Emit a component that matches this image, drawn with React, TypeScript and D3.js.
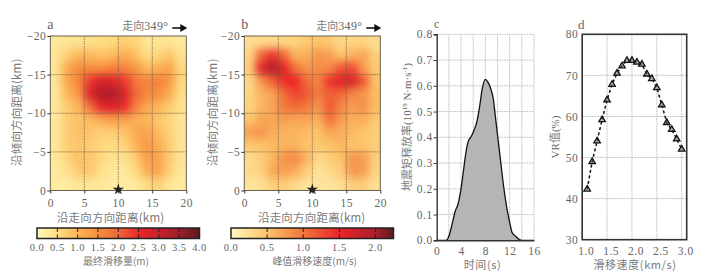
import { useEffect, useRef } from "react";
import * as d3 from "d3";

// heat maps, 12 x 12 cells, top row is -20 km
const slipGrid = [
  [0.3, 0.35, 0.4, 0.45, 0.5, 0.55, 0.7, 0.6, 0.35, 0.35, 0.35, 0.3],
  [0.35, 0.7, 1.0, 0.95, 0.85, 0.95, 1.15, 0.9, 0.5, 0.6, 0.8, 0.4],
  [0.35, 1.15, 1.55, 1.5, 1.5, 1.7, 1.65, 1.4, 0.95, 1.05, 1.25, 0.55],
  [0.35, 1.2, 1.6, 2.4, 2.8, 2.7, 2.4, 1.8, 1.6, 1.7, 1.4, 0.55],
  [0.3, 1.0, 1.4, 2.7, 3.3, 3.3, 2.8, 2.0, 1.6, 1.5, 1.1, 0.45],
  [0.3, 0.75, 1.0, 1.9, 2.6, 2.7, 2.5, 1.7, 1.2, 1.0, 0.75, 0.4],
  [0.3, 0.7, 0.85, 0.95, 1.15, 1.3, 1.25, 1.1, 1.0, 0.8, 0.6, 0.35],
  [0.3, 0.7, 0.85, 0.8, 0.65, 0.7, 0.8, 1.15, 1.25, 0.95, 0.65, 0.35],
  [0.3, 0.7, 0.8, 0.7, 0.55, 0.5, 0.6, 1.0, 1.4, 1.1, 0.7, 0.35],
  [0.3, 0.6, 0.85, 0.8, 0.55, 0.4, 0.4, 0.7, 1.3, 1.25, 0.75, 0.35],
  [0.3, 0.4, 0.75, 0.75, 0.45, 0.3, 0.3, 0.5, 1.1, 1.25, 0.65, 0.3],
  [0.25, 0.25, 0.35, 0.35, 0.3, 0.25, 0.25, 0.3, 0.5, 0.65, 0.35, 0.25],
];
const rateGrid = [
  [0.25, 0.3, 0.3, 0.35, 0.35, 0.45, 0.5, 0.45, 0.3, 0.35, 0.35, 0.25],
  [0.35, 1.1, 1.45, 1.1, 0.6, 0.65, 0.8, 0.75, 0.5, 0.6, 0.7, 0.4],
  [0.4, 1.6, 1.95, 1.55, 1.0, 0.8, 0.85, 0.85, 1.2, 1.3, 0.75, 0.45],
  [0.3, 0.8, 1.15, 1.45, 1.5, 1.05, 0.9, 1.4, 1.6, 1.65, 1.2, 0.5],
  [0.35, 0.6, 0.7, 1.05, 1.3, 1.2, 0.95, 1.15, 1.1, 0.9, 0.8, 0.55],
  [0.35, 0.6, 0.7, 1.0, 1.05, 1.0, 0.8, 1.2, 0.9, 0.75, 0.85, 0.55],
  [0.5, 0.7, 0.7, 0.75, 0.7, 0.7, 0.6, 1.05, 0.75, 0.65, 0.65, 0.45],
  [0.75, 0.8, 0.65, 0.6, 0.6, 0.55, 0.5, 0.7, 0.65, 0.55, 0.5, 0.4],
  [0.45, 0.5, 0.55, 0.6, 0.6, 0.5, 0.45, 0.5, 0.6, 0.5, 0.5, 0.4],
  [0.3, 0.4, 0.6, 0.8, 0.9, 0.6, 0.3, 0.4, 0.5, 0.8, 0.75, 0.4],
  [0.3, 0.35, 0.7, 0.75, 0.65, 0.4, 0.2, 0.3, 0.4, 0.8, 0.75, 0.35],
  [0.2, 0.25, 0.4, 0.4, 0.3, 0.2, 0.2, 0.2, 0.25, 0.4, 0.4, 0.25],
];

const slipStops = [0, 0.5, 1, 1.5, 2, 2.5, 3, 3.5, 4];
const rateStops = [0, 0.5, 1, 1.5, 2, 2.25];
const slipColors = ["#fff8c0", "#fedd84", "#fcb55a", "#f68f3e", "#f0683a", "#ec2428", "#c8202c", "#9c1f2a", "#5c1a1e"];
const rateColors = ["#fff8c0", "#fcc468", "#f1763a", "#ec2428", "#a81f2a", "#5c1a1e"];
const slipTicks = [0, 0.5, 1, 1.5, 2, 2.5, 3, 3.5, 4];
const rateTicks = [0, 0.5, 1, 1.5, 2];

const distTicks = [0, 5, 10, 15, 20];
const depthTicks = [-20, -15, -10, -5, 0];

// moment rate function
const stfTime = [0, 1.5, 1.9, 2.3, 2.7, 3, 3.5, 4, 4.4, 4.8, 5.2, 5.6, 6, 6.6, 7, 7.5, 8, 8.4, 9, 9.3, 9.6, 10, 10.5, 11, 11.5, 12, 12.4, 13, 13.6, 14, 16];
const stfRate = [0, 0, 0.01, 0.04, 0.08, 0.11, 0.14, 0.2, 0.27, 0.34, 0.385, 0.4, 0.42, 0.46, 0.51, 0.59, 0.625, 0.615, 0.58, 0.55, 0.49, 0.41, 0.31, 0.21, 0.13, 0.07, 0.03, 0.015, 0.003, 0, 0];
const stfXGrid = [2, 4, 6, 8, 10, 12, 14];
const stfXTicks = [0, 4, 8, 12, 16];
const stfYTicks = [0, 0.1, 0.2, 0.3, 0.4, 0.5, 0.6, 0.7, 0.8];

// VR vs rupture speed
const speed = [1.1, 1.2, 1.3, 1.4, 1.5, 1.6, 1.7, 1.8, 1.9, 2.0, 2.1, 2.2, 2.3, 2.4, 2.5, 2.6, 2.7, 2.8, 2.9, 3.0];
const vr = [42.3, 49, 54, 59.2, 64, 67.8, 70.5, 72.3, 73.6, 73.6, 73.2, 72.7, 70.3, 69.2, 67, 62.8, 58.5, 56.8, 54.5, 52];
const speedTicks = [1, 1.5, 2, 2.5, 3];
const vrTicks = [30, 40, 50, 60, 70, 80];

const SERIF = "'Liberation Serif','Noto Sans CJK SC',serif";
const CJK = "'Noto Sans CJK SC','Liberation Serif',serif";
const TEXT = "#666";
const CJK_TEXT = "#7a7a7a";
const AXIS = "#6b6250";

function heatPanel(svg: any, id: string, left: number, grid: number[][], stops: number[], colors: string[], letter: string, ylabelX: number, xlabelX: number) {
  const top = 36;
  const size = 136;
  const h = 154.5;
  const x = d3.scaleLinear().domain([0, 20]).range([left, left + size]);
  const y = d3.scaleLinear().domain([-20, 0]).range([top, top + h]);
  const color = d3.scaleLinear<string>().domain(stops).range(colors).clamp(true);
  const n = grid.length;
  const cw = 20 / n;

  const defs = svg.append("defs");
  defs.append("clipPath").attr("id", "clip" + id).append("rect")
    .attr("x", x(0)).attr("y", y(-20)).attr("width", size).attr("height", h);
  defs.append("filter").attr("id", "blur" + id)
    .attr("filterUnits", "userSpaceOnUse")
    .attr("x", left - 40).attr("y", top - 40).attr("width", size + 80).attr("height", h + 80)
    .attr("color-interpolation-filters", "sRGB")
    .append("feGaussianBlur").attr("stdDeviation", 4.5);

  const g = svg.append("g").attr("clip-path", `url(#clip${id})`).append("g").attr("filter", `url(#blur${id})`);
  grid.forEach((row, r) => {
    row.forEach((v, c) => {
      // edge cells run on past the frame so the blur does not fade at the border
      const x0 = c === 0 ? x(0) - 30 : x(c * cw);
      const x1 = c === n - 1 ? x(20) + 30 : x((c + 1) * cw);
      const y0 = r === 0 ? y(-20) - 30 : y(-20 + r * cw);
      const y1 = r === n - 1 ? y(0) + 30 : y(-20 + (r + 1) * cw);
      g.append("rect").attr("x", x0).attr("y", y0)
        .attr("width", x1 - x0 + 0.5).attr("height", y1 - y0 + 0.5)
        .attr("fill", color(v));
    });
  });

  // grid lines
  [5, 10, 15].forEach((t) => {
    svg.append("line").attr("x1", x(t)).attr("x2", x(t)).attr("y1", y(-20)).attr("y2", y(0))
      .attr("stroke", "#6b5a40").attr("stroke-width", 0.7).attr("stroke-dasharray", "1.5 1");
    svg.append("line").attr("x1", x(0)).attr("x2", x(20)).attr("y1", y(-t)).attr("y2", y(-t))
      .attr("stroke", "#6b5a40").attr("stroke-width", 0.7).attr("stroke-dasharray", "1.5 1");
  });
  svg.append("rect").attr("x", x(0)).attr("y", y(-20)).attr("width", size).attr("height", h)
    .attr("fill", "none").attr("stroke", AXIS).attr("stroke-width", 1);

  const ax = svg.append("g").attr("transform", `translate(0,${y(0)})`)
    .call(d3.axisBottom(x).tickValues(distTicks).tickFormat(d3.format("d")).tickSize(3).tickPadding(5));
  const ay = svg.append("g").attr("transform", `translate(${x(0)},0)`)
    .call(d3.axisLeft(y).tickValues(depthTicks).tickFormat(d3.format("d")).tickSize(3).tickPadding(1));
  [ax, ay].forEach((a) => {
    a.select(".domain").remove();
    a.selectAll("line").attr("stroke", "#333");
    a.selectAll("text").attr("font-family", SERIF).attr("font-size", 11.5).attr("fill", TEXT).attr("letter-spacing", 0.5);
  });

  // epicentre
  svg.append("path").attr("d", d3.symbol(d3.symbolStar, 40)())
    .attr("transform", `translate(${x(10)},${y(0) - 1})`).attr("fill", "#222");

  svg.append("text").attr("x", left - 3).attr("y", 29).attr("font-family", SERIF).attr("font-size", 14).attr("fill", TEXT).text(letter);
  const strike = svg.append("text").attr("x", left + 72).attr("y", 30).attr("font-family", CJK).attr("font-size", 11).attr("fill", CJK_TEXT);
  strike.append("tspan").text("走向");
  strike.append("tspan").attr("font-family", SERIF).attr("font-size", 12).attr("fill", TEXT).attr("letter-spacing", 0.3).text("349°");
  svg.append("line").attr("x1", left + 122).attr("x2", left + 132).attr("y1", 28).attr("y2", 28).attr("stroke", "#111").attr("stroke-width", 1.6);
  svg.append("path").attr("d", d3.line()([[left + 130, 24], [left + 137, 28], [left + 130, 32]]) + "Z").attr("fill", "#111");

  svg.append("text").attr("transform", `translate(${ylabelX},${top + h / 2 - 1}) rotate(-90)`)
    .attr("text-anchor", "middle").attr("font-family", CJK).attr("font-size", 11.5).attr("fill", CJK_TEXT).attr("letter-spacing", 0.2)
    .text("沿倾向方向距离(km)");
  svg.append("text").attr("x", xlabelX).attr("y", 222)
    .attr("text-anchor", "middle").attr("font-family", CJK).attr("font-size", 11.5).attr("fill", CJK_TEXT).attr("letter-spacing", 0.2)
    .text("沿走向方向距离(km)");
}

function colorBar(svg: any, id: string, left: number, ticks: number[], stops: number[], colors: string[], domainMax: number, title: string, titleX: number) {
  const width = 162.5;
  const top = 228;
  const h = 10.5;
  const x = d3.scaleLinear().domain([0, domainMax]).range([left, left + width]);
  const grad = svg.append("defs").append("linearGradient").attr("id", "bar" + id);
  stops.forEach((s, i) => {
    grad.append("stop").attr("offset", s / domainMax).attr("stop-color", colors[i]);
  });
  svg.append("rect").attr("x", left).attr("y", top).attr("width", width).attr("height", h)
    .attr("fill", `url(#bar${id})`).attr("stroke", "#222").attr("stroke-width", 1.5);
  ticks.slice(1).forEach((t) => {
    if (t >= domainMax) return;
    svg.append("line").attr("x1", x(t)).attr("x2", x(t)).attr("y1", top).attr("y2", top + h)
      .attr("stroke", "#222").attr("stroke-width", 1).attr("stroke-dasharray", "4 2.5 4");
  });
  svg.selectAll(null).data(ticks).enter().append("text")
    .attr("x", (d: number) => x(d)).attr("y", 251)
    .attr("text-anchor", "middle").attr("font-family", SERIF).attr("font-size", 10.5).attr("fill", TEXT).attr("letter-spacing", 0.5)
    .text((d: number) => d.toFixed(1));
  svg.append("text").attr("x", titleX).attr("y", 265)
    .attr("text-anchor", "middle").attr("font-family", CJK).attr("font-size", 10).attr("fill", CJK_TEXT)
    .text(title);
}

function stfPanel(svg: any) {
  const x = d3.scaleLinear().domain([0, 16]).range([436.7, 534]);
  const y = d3.scaleLinear().domain([0, 0.8]).range([240.3, 34.3]);
  stfXGrid.concat([16]).forEach((t) => {
    svg.append("line").attr("x1", x(t)).attr("x2", x(t)).attr("y1", y(0)).attr("y2", y(0.8))
      .attr("stroke", "#aaa").attr("stroke-width", 0.8).attr("stroke-dasharray", "1.5 1");
  });
  stfYTicks.slice(1).forEach((t) => {
    svg.append("line").attr("x1", x(0)).attr("x2", x(16)).attr("y1", y(t)).attr("y2", y(t))
      .attr("stroke", "#aaa").attr("stroke-width", 0.8).attr("stroke-dasharray", "1.5 1");
  });
  const pts = stfTime.map((t, i) => [t, stfRate[i]] as [number, number]);
  svg.append("path").datum(pts)
    .attr("d", d3.area<[number, number]>().x((d) => x(d[0])).y0(y(0)).y1((d) => y(d[1])).curve(d3.curveMonotoneX))
    .attr("fill", "#b5b5b5");
  svg.append("path").datum(pts)
    .attr("d", d3.line<[number, number]>().x((d) => x(d[0])).y((d) => y(d[1])).curve(d3.curveMonotoneX))
    .attr("fill", "none").attr("stroke", "#111").attr("stroke-width", 1.3);

  const ax = svg.append("g").attr("transform", `translate(0,${y(0)})`)
    .call(d3.axisBottom(x).tickValues(stfXTicks).tickFormat(d3.format("d")).tickSize(0).tickPadding(7));
  const ay = svg.append("g").attr("transform", `translate(${x(0)},0)`)
    .call(d3.axisLeft(y).tickValues(stfYTicks).tickFormat(d3.format(".1f")).tickSize(3).tickPadding(1));
  [ax, ay].forEach((a) => {
    a.selectAll("line").attr("stroke", "#333");
    a.select(".domain").attr("stroke", "#333").attr("stroke-width", 1.4);
    a.selectAll("text").attr("font-family", SERIF).attr("font-size", 11.5).attr("fill", TEXT).attr("letter-spacing", 0.5);
  });

  svg.append("text").attr("x", 434).attr("y", 28).attr("font-family", SERIF).attr("font-size", 12).attr("fill", TEXT).text("c");
  const yl = svg.append("text").attr("transform", "translate(411,127) rotate(-90)")
    .attr("text-anchor", "middle").attr("font-family", CJK).attr("font-size", 11).attr("fill", CJK_TEXT);
  yl.append("tspan").text("地震矩释放率");
  yl.append("tspan").attr("font-family", SERIF).attr("fill", TEXT).text("(10");
  yl.append("tspan").attr("font-family", SERIF).attr("fill", TEXT).attr("font-size", 7).attr("dy", -4).text("19");
  yl.append("tspan").attr("font-family", SERIF).attr("fill", TEXT).attr("dy", 4).text(" N·m·s");
  yl.append("tspan").attr("font-family", SERIF).attr("fill", TEXT).attr("font-size", 7).attr("dy", -4).text("-1");
  yl.append("tspan").attr("font-family", SERIF).attr("fill", TEXT).attr("dy", 4).text(")");
  svg.append("text").attr("x", 482.5).attr("y", 269).attr("text-anchor", "middle")
    .attr("font-family", CJK).attr("font-size", 11).attr("fill", CJK_TEXT).attr("letter-spacing", 0.6).text("时间(s)");
}

function vrPanel(svg: any) {
  const x = d3.scaleLinear().domain([1, 3]).range([582.2, 681.7]);
  const y = d3.scaleLinear().domain([30, 80]).range([239.7, 34.3]);
  speedTicks.slice(1).forEach((t) => {
    svg.append("line").attr("x1", x(t)).attr("x2", x(t)).attr("y1", y(30)).attr("y2", y(80))
      .attr("stroke", "#aaa").attr("stroke-width", 0.8).attr("stroke-dasharray", "1.5 1");
  });
  vrTicks.slice(1, -1).forEach((t) => {
    svg.append("line").attr("x1", x(1)).attr("x2", 686.7).attr("y1", y(t)).attr("y2", y(t))
      .attr("stroke", "#aaa").attr("stroke-width", 0.8).attr("stroke-dasharray", "1.5 1");
  });
  svg.append("rect").attr("x", x(1)).attr("y", y(80)).attr("width", 686.7 - x(1)).attr("height", y(30) - y(80))
    .attr("fill", "none").attr("stroke", "#333").attr("stroke-width", 1.6);

  const pts = speed.map((s, i) => [s, vr[i]] as [number, number]);
  svg.append("path").datum(pts)
    .attr("d", d3.line<[number, number]>().x((d) => x(d[0])).y((d) => y(d[1])))
    .attr("fill", "none").attr("stroke", "#111").attr("stroke-width", 1.5).attr("stroke-dasharray", "3 2.5");
  const tri = d3.symbol(d3.symbolTriangle, 18)();
  svg.selectAll(null).data(pts).enter().append("path")
    .attr("d", tri)
    .attr("transform", (d: [number, number]) => `translate(${x(d[0])},${y(d[1])})`)
    .attr("fill", "rgba(90,90,90,0.45)").attr("stroke", "#111").attr("stroke-width", 1.3);

  svg.selectAll(null).data(speedTicks).enter().append("text")
    .attr("x", (d: number) => x(d) + 4).attr("y", 255).attr("text-anchor", "middle")
    .attr("font-family", SERIF).attr("font-size", 11.5).attr("fill", TEXT).attr("letter-spacing", 0.5)
    .text((d: number) => d.toFixed(1));
  const ay = svg.append("g").attr("transform", `translate(${x(1)},0)`)
    .call(d3.axisLeft(y).tickValues(vrTicks).tickFormat(d3.format("d")).tickSize(0).tickPadding(4));
  ay.select(".domain").remove();
  ay.selectAll("text").attr("font-family", SERIF).attr("font-size", 11.5).attr("fill", TEXT).attr("letter-spacing", 0.5);

  svg.append("text").attr("x", 578).attr("y", 29).attr("font-family", SERIF).attr("font-size", 13).attr("fill", TEXT).text("d");
  const vl = svg.append("text").attr("transform", "translate(559,137) rotate(-90)")
    .attr("text-anchor", "middle").attr("font-family", SERIF).attr("font-size", 11).attr("fill", TEXT);
  vl.append("tspan").text("VR");
  vl.append("tspan").attr("font-family", CJK).attr("fill", CJK_TEXT).text("值");
  vl.append("tspan").text("(%)");
  svg.append("text").attr("x", 635).attr("y", 269).attr("text-anchor", "middle")
    .attr("font-family", CJK).attr("font-size", 11).attr("fill", CJK_TEXT).attr("letter-spacing", 0.6).text("滑移速度(km/s)");
}

export default function App() {
  const ref = useRef<SVGSVGElement>(null);

  useEffect(() => {
    const svg = d3.select(ref.current);
    svg.selectAll("*").remove();
    heatPanel(svg, "a", 50.3, slipGrid, slipStops, slipColors, "a", 21, 110.6);
    heatPanel(svg, "b", 244.3, rateGrid, rateStops, rateColors, "b", 217, 311.7);
    colorBar(svg, "a", 37, slipTicks, slipStops, slipColors, 4, "最终滑移量(m)", 116);
    colorBar(svg, "b", 231, rateTicks, rateStops, rateColors, 2.25, "峰值滑移速度(m/s)", 314.7);
    stfPanel(svg);
    vrPanel(svg);
  }, []);

  return (
    <svg
      ref={ref}
      width={716}
      height={275}
      style={{ position: "absolute", left: 0, top: 0, background: "#fff" }}
    />
  );
}
